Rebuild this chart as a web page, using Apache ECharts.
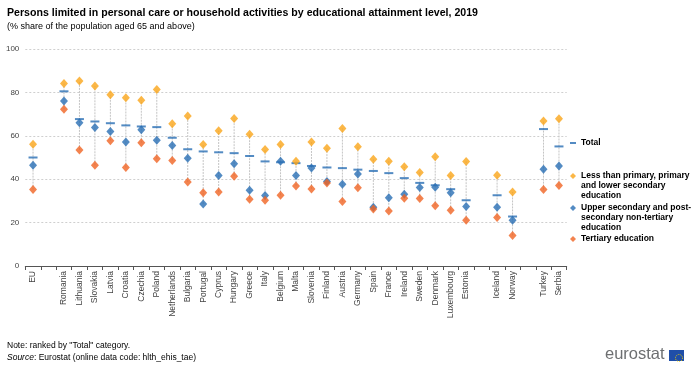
<!DOCTYPE html>
<html>
<head>
<meta charset="utf-8">
<script src="https://cdn.jsdelivr.net/npm/echarts@6/dist/echarts.min.js"></script>
<style>html,body{margin:0;padding:0;background:#fff}#c{width:700px;height:373px}</style>
</head>
<body>
<div id="c"></div>
<script>
var categories = ['EU','', 'Romania','Lithuania','Slovakia','Latvia','Croatia','Czechia','Poland','Netherlands','Bulgaria','Portugal','Cyprus','Hungary','Greece','Italy','Belgium','Malta','Slovenia','Finland','Austria','Germany','Spain','France','Ireland','Sweden','Denmark','Luxembourg','Estonia','', 'Iceland','Norway',' ', 'Turkey','Serbia'];
var total    = [50.0,null,80.5,67.7,66.6,65.8,64.8,64.3,64.0,59.1,53.8,52.8,52.4,52.0,50.7,48.2,47.8,47.4,46.1,45.4,45.1,44.4,43.8,42.8,40.5,38.3,37.2,35.4,30.3,null,32.6,22.8,null,63.1,55.1];
var lessThanPrimary = [56.1,null,84.1,85.2,82.9,78.9,77.5,76.4,81.3,65.5,69.1,56.0,62.3,68.0,60.7,53.7,56.0,48.3,57.1,54.3,63.4,54.9,49.2,48.3,45.7,43.1,50.3,41.7,48.2,null,41.8,34.1,null,66.8,67.8];
var upperSecondary  = [46.4,null,76.0,66.0,63.8,62.0,57.2,62.8,58.0,55.5,49.7,28.6,41.7,47.1,34.9,32.5,48.3,41.7,45.2,38.9,37.7,42.4,27.1,31.5,33.1,36.2,36.3,33.7,27.4,null,27.1,21.1,null,44.6,46.1];
var tertiary        = [35.2,null,72.2,53.5,46.4,57.7,45.4,56.8,49.4,48.6,38.7,33.7,34.1,41.4,30.8,30.3,32.6,36.9,35.5,38.2,29.7,36.1,26.3,25.4,31.2,31.1,27.8,25.7,21.1,null,22.3,14.1,null,35.2,37.1];
var yTicks = [0,20,40,60,80,100];

var seriesNames = ['Total',
  'Less than primary, primary\nand lower secondary\neducation',
  'Upper secondary and post-\nsecondary non-tertiary\neducation',
  'Tertiary education'];

var rangeData = categories.map(function(c,i){
  var vals=[total[i],lessThanPrimary[i],upperSecondary[i],tertiary[i]].filter(function(v){return v!=null;});
  if(!vals.length) return [i,null,null];
  return [i, Math.min.apply(null,vals), Math.max.apply(null,vals)];
});

var FONT = 'Arial, "Liberation Sans", sans-serif';
var chart = echarts.init(document.getElementById('c'), null, {renderer:'canvas'});
var legendBase = {orient:'vertical', left:570, padding:0, selectedMode:false,
  textStyle:{fontFamily:FONT, fontSize:8.5, fontWeight:'bold', color:'#000', lineHeight:10}};
var topAlign = function(n){ return '\n\n' + n; };
chart.setOption({
  animation:false,
  color:['#286EB4','#FAA519','#286EB4','#F06423'],
  title:[
    {text:'Persons limited in personal care or household activities by educational attainment level, 2019', left:7, top:8, padding:0,
     textStyle:{fontFamily:FONT, fontSize:10.6, fontWeight:'bold', color:'#000'}},
    {text:'(% share of the population aged 65 and above)', left:7, top:22, padding:0,
     textStyle:{fontFamily:FONT, fontSize:9, fontWeight:'normal', color:'#000'}},
    {text:'Note: ranked by "Total" category.', left:7, top:341, padding:0,
     textStyle:{fontFamily:FONT, fontSize:8.5, fontWeight:'normal', color:'#000'}},
    {text:'{i|Source}: Eurostat (online data code: hlth_ehis_tae)', left:7, top:353, padding:0,
     textStyle:{fontFamily:FONT, fontSize:8.5, fontWeight:'normal', color:'#000',
       rich:{i:{fontFamily:FONT, fontSize:8.5, fontStyle:'italic', color:'#000'}}}}
  ],
  legend:[
    Object.assign({}, legendBase, {data:[seriesNames[0]], top:138, itemWidth:6, itemHeight:2}),
    Object.assign({}, legendBase, {data:[seriesNames[1]], top:151, itemWidth:6, itemHeight:6, formatter:topAlign}),
    Object.assign({}, legendBase, {data:[seriesNames[2]], top:183, itemWidth:6, itemHeight:6, formatter:topAlign}),
    Object.assign({}, legendBase, {data:[seriesNames[3]], top:234, itemWidth:6, itemHeight:6})
  ],
  grid:{left:25.3, right:133.3, top:49, bottom:107, containLabel:false},
  xAxis:{type:'category', data:categories, boundaryGap:true,
    axisLine:{lineStyle:{color:'#555', width:1}},
    axisTick:{show:true, length:4, lineStyle:{color:'#555'}, interval:0},
    axisLabel:{rotate:90, interval:0, margin:5, fontFamily:FONT, fontSize:8.5, color:'#444'},
    splitLine:{show:false}},
  yAxis:{type:'value', min:0, max:100, interval:20,
    axisLine:{show:false}, axisTick:{show:false},
    axisLabel:{fontFamily:FONT, fontSize:8, color:'#444', margin:6},
    splitLine:{lineStyle:{color:'#cfcfcf', type:[2,2], width:1}}},
  series:[
    {type:'custom', name:'range', silent:true, z:1, data:rangeData,
     renderItem:function(params, api){
       if(api.value(1)==null || isNaN(api.value(1))) return;
       var p1=api.coord([api.value(0), api.value(1)]);
       var p2=api.coord([api.value(0), api.value(2)]);
       return {type:'line', shape:{x1:p1[0],y1:p1[1],x2:p2[0],y2:p2[1]},
         style:{stroke:'#c4c4c4', lineWidth:1, lineDash:[2,1]}};
     }},
    {type:'scatter', name:seriesNames[0], data:total, symbol:'rect', symbolSize:[9,2], z:3,
     itemStyle:{color:'#286EB4'}},
    {type:'scatter', name:seriesNames[1], data:lessThanPrimary, symbol:'diamond', symbolSize:[8,9], z:4,
     itemStyle:{color:'#FAA519'}},
    {type:'scatter', name:seriesNames[2], data:upperSecondary, symbol:'diamond', symbolSize:[8,9], z:4,
     itemStyle:{color:'#286EB4'}},
    {type:'scatter', name:seriesNames[3], data:tertiary, symbol:'diamond', symbolSize:[8,9], z:4,
     itemStyle:{color:'#F06423'}}
  ],
  graphic:[
    {type:'text', left:605, top:346, style:{text:'eurostat', fontFamily:FONT, fontSize:16.5, fill:'#6d6f71'}},
    {type:'rect', left:669, top:350, shape:{width:15, height:11}, style:{fill:'#1f4ea8'}},
    {type:'circle', left:673, top:352, shape:{r:3.5}, style:{fill:'none', stroke:'#f5d400', lineWidth:1, lineDash:[1,1.2]}}
  ]
});
</script>
</body>
</html>
